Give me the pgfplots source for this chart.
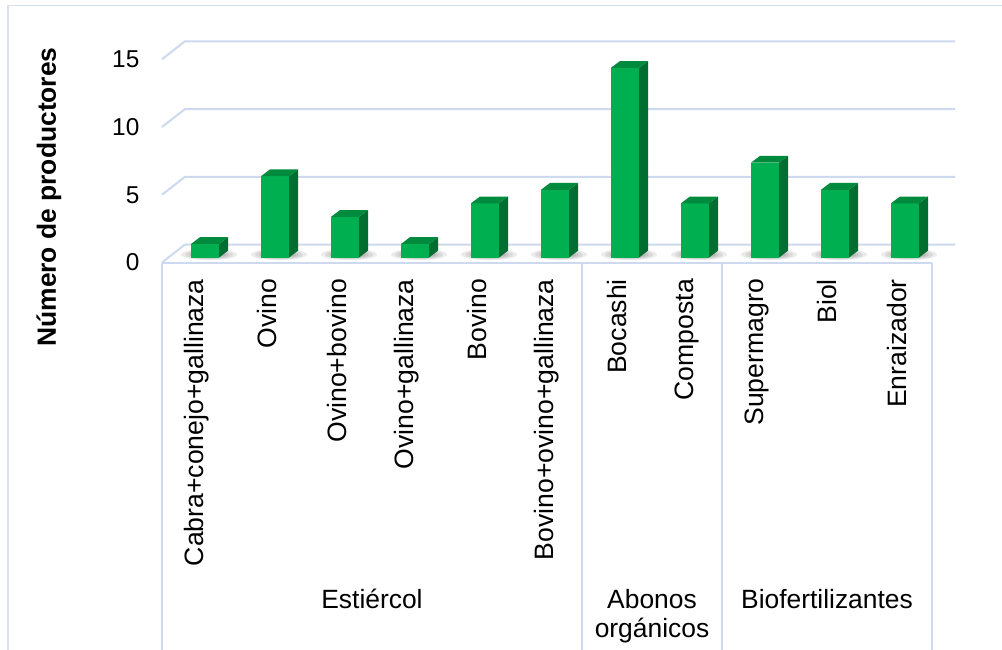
\documentclass[border=0pt]{standalone}
\usepackage{pgfplots}
\pgfplotsset{compat=1.18}
\usepackage{pgfplotstable}
\usepackage{fontspec}
\setmainfont{Liberation Sans}

\definecolor{gridcol}{RGB}{204,217,238}
\definecolor{framecol}{RGB}{214,223,239}
\definecolor{barfront}{RGB}{0,176,80}
\definecolor{bartop}{RGB}{0,138,62}
\definecolor{barside}{RGB}{0,110,48}

\pgfplotstableread{
idx val
0 1
1 6
2 3
3 1
4 4
5 5
6 14
7 4
8 7
9 5
10 4
}\productores

% 3-D column drawn around the top-front point of each value
\newcommand\yunit{6.775pt}
\pgfdeclareplotmark{bar3d}{%
  \pgfmathsetlengthmacro\barh{\barval*\yunit}%
  % soft shadow on the floor
  \begin{pgfscope}
    \pgfsetfillcolor{black}%
    \pgfsetfillopacity{0.08}%
    \pgfpathellipse{\pgfpoint{6pt}{-\barh+4pt}}{\pgfpoint{14pt}{0pt}}{\pgfpoint{0pt}{2.8pt}}\pgfusepath{fill}%
    \pgfpathellipse{\pgfpoint{6pt}{-\barh+4pt}}{\pgfpoint{12pt}{0pt}}{\pgfpoint{0pt}{2.4pt}}\pgfusepath{fill}%
    \pgfpathellipse{\pgfpoint{6pt}{-\barh+4pt}}{\pgfpoint{10pt}{0pt}}{\pgfpoint{0pt}{2pt}}\pgfusepath{fill}%
    \pgfpathellipse{\pgfpoint{6pt}{-\barh+4pt}}{\pgfpoint{8.5pt}{0pt}}{\pgfpoint{0pt}{1.7pt}}\pgfusepath{fill}%
    \pgfpathellipse{\pgfpoint{6pt}{-\barh+4pt}}{\pgfpoint{7pt}{0pt}}{\pgfpoint{0pt}{1.4pt}}\pgfusepath{fill}%
  \end{pgfscope}
  % front face
  \begin{pgfscope}
    \pgfsetfillcolor{barfront}%
    \pgfpathrectanglecorners{\pgfpoint{-3pt}{-\barh+2.5pt}}{\pgfpoint{11pt}{2.5pt}}%
    \pgfusepath{fill}%
  \end{pgfscope}
  % right side face
  \begin{pgfscope}
    \pgfsetfillcolor{barside}%
    \pgfpathmoveto{\pgfpoint{11pt}{-\barh+2.5pt}}%
    \pgfpathlineto{\pgfpoint{15.5pt}{-\barh+5.9pt}}%
    \pgfpathlineto{\pgfpoint{15.5pt}{5.9pt}}%
    \pgfpathlineto{\pgfpoint{11pt}{2.5pt}}%
    \pgfpathclose
    \pgfusepath{fill}%
  \end{pgfscope}
  % top face
  \begin{pgfscope}
    \pgfsetfillcolor{bartop}%
    \pgfpathmoveto{\pgfpoint{-3pt}{2.5pt}}%
    \pgfpathlineto{\pgfpoint{11pt}{2.5pt}}%
    \pgfpathlineto{\pgfpoint{15.5pt}{5.9pt}}%
    \pgfpathlineto{\pgfpoint{1.5pt}{5.9pt}}%
    \pgfpathclose
    \pgfusepath{fill}%
  \end{pgfscope}
}

\begin{document}
\begin{tikzpicture}
\useasboundingbox (0,0) rectangle (501pt,-324.5pt);
\clip (0,0) rectangle (501pt,-324.5pt);

% chart frame
\draw[framecol, line width=0.8pt] (4pt,-330pt) -- (4pt,-2.75pt) -- (510pt,-2.75pt);

% y-axis title
\node[rotate=90, font=\bfseries\fontsize{13.2}{15}\selectfont] at (24.5pt,-98.5pt) {Número de productores};

\begin{axis}[
  at={(81pt,-131.25pt)}, anchor=south west,
  x=35pt, y=\yunit,
  xmin=-0.5, xmax=10.5, ymin=0, ymax=15,
  clip=false,
  axis line style={draw=none},
  major tick length=0pt,
  ytick={0,5,10,15},
  xtick={0,...,10},
  xticklabels={Cabra+conejo+gallinaza, Ovino, Ovino+bovino, Ovino+gallinaza, Bovino,
    Bovino+ovino+gallinaza, Bocashi, Composta, Supermagro, Biol, Enraizador},
  /pgf/number format/assume math mode=true,
  yticklabel style={font=\fontsize{12.2}{14}\selectfont, xshift=-7.8pt},
  xticklabel style={font=\fontsize{13.3}{15}\selectfont, yshift=-4.8pt, rotate=90, anchor=east},
]
% back wall gridlines with the left floor/wall edge
\pgfplotsinvokeforeach{0,5,10,15}{
  \draw[gridcol, line width=1pt] (axis cs:-0.5,#1) -- ++(11.5pt,9pt)
     -- ([shift={(11.5pt,9pt)}]axis cs:10.5,#1);
}
% front edge of the floor
\draw[gridcol, line width=1pt] (axis cs:-0.5,0) -- (axis cs:10.5,0);
% category group separators
\pgfplotsinvokeforeach{-0.5,5.5,7.5,10.5}{
  \draw[gridcol, line width=0.8pt] (axis cs:#1,0) -- ++(0pt,-200pt);
}

\addplot[scatter, only marks, mark=bar3d,
  scatter/@pre marker code/.code={},
  scatter/@post marker code/.code={},
  visualization depends on={rawy \as \barval}]
  table[x=idx, y=val] {\productores};

% group labels
\begin{scope}[font=\fontsize{13.2}{15}\selectfont]
\node[anchor=base] at ([yshift=-172.75pt]axis cs:2.5,0) {Estiércol};
\node[anchor=base] at ([yshift=-172.75pt]axis cs:6.5,0) {Abonos};
\node[anchor=base] at ([yshift=-187.5pt]axis cs:6.5,0) {orgánicos};
\node[anchor=base] at ([yshift=-172.75pt]axis cs:9,0) {Biofertilizantes};
\end{scope}
\end{axis}
\end{tikzpicture}
\end{document}
